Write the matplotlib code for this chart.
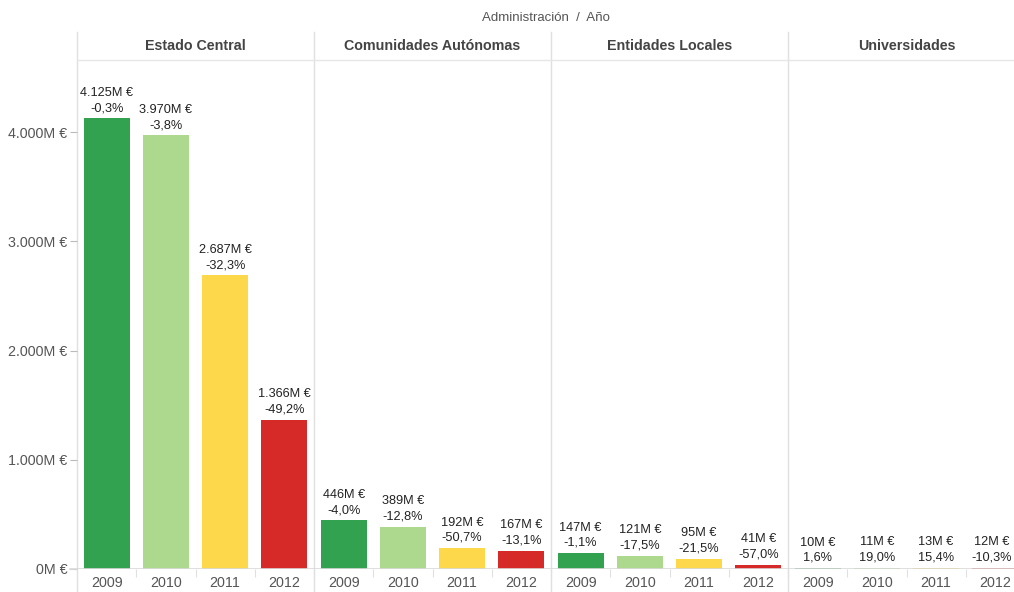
import matplotlib.pyplot as plt
from matplotlib.lines import Line2D
import matplotlib.transforms as mtransforms

plt.rcParams['font.family'] = ['Liberation Sans', 'DejaVu Sans']

# Data
groups = ['Estado Central', 'Comunidades Autónomas', 'Entidades Locales', 'Universidades']
years = ['2009', '2010', '2011', '2012']
values = [
    [4125, 3970, 2687, 1366],
    [446, 389, 192, 167],
    [147, 121, 95, 41],
    [10, 11, 13, 12],
]
changes = [
    ['-0,3%', '-3,8%', '-32,3%', '-49,2%'],
    ['-4,0%', '-12,8%', '-50,7%', '-13,1%'],
    ['-1,1%', '-17,5%', '-21,5%', '-57,0%'],
    ['1,6%', '19,0%', '15,4%', '-10,3%'],
]
year_colors = ['#32a251', '#acd98d', '#fdd84a', '#d62a28']
yticks = [0, 1000, 2000, 3000, 4000]

W, H = 1014, 592
fig = plt.figure(figsize=(W / 100, H / 100), dpi=100)
left, right, bottom, top = 77, 1014, 569, 60
ax = fig.add_axes([left / W, 1 - bottom / H, (right - left) / W, (bottom - top) / H])

n = len(years)
slot = 59.25
xmax = -0.5 + (right - left) / slot
ax.set_xlim(-0.5, xmax)
ax.set_ylim(0, (bottom - top) / 109.25 * 1000)

grid_c = '#e0e0e0'
xs, labels = [], []
last = len(groups) * n - 1
for g, (vals, pcts) in enumerate(zip(values, changes)):
    for i, (v, p) in enumerate(zip(vals, pcts)):
        x = g * n + i
        ax.bar(x, v, width=0.78, color=year_colors[i], zorder=2)
        txt = f"{v:,}".replace(',', '.') + 'M €\n' + p
        dx = -3 if x == last else 0  # keep the edge label inside the figure
        ax.annotate(txt, (x, v), xytext=(dx, 3), textcoords='offset points',
                    ha='center', va='bottom', fontsize=9.2, color='#222222',
                    linespacing=1.35)
        xs.append(x)
        labels.append(years[i])

for s in ax.spines.values():
    s.set_visible(False)

ax.set_xticks(xs)
ax.set_xticklabels(labels)
ax.set_xticks([k - 0.5 for k in range(1, len(xs))], minor=True)
ax.tick_params(axis='x', which='major', length=0, pad=5, labelsize=10.3, labelcolor='#555555')
ax.tick_params(axis='x', which='minor', length=6, color='#e0e0e0', width=0.8)

ax.set_yticks(yticks)
ax.set_yticklabels([f"{v:,}".replace(',', '.') + 'M €' for v in yticks])
ax.tick_params(axis='y', length=5, color='#bbbbbb', width=0.8, labelsize=10.3,
               labelcolor='#555555', pad=2)

trans = mtransforms.blended_transform_factory(ax.transData, ax.transAxes)
ybot = -(H - bottom) / (bottom - top)
ytop = (bottom - 32) / (bottom - top)
for g in range(len(groups) + 1):
    xb = g * n - 0.5
    if xb > xmax:
        continue
    ax.add_line(Line2D([xb, xb], [ybot, ytop], transform=trans, color=grid_c,
                       lw=1, clip_on=False, zorder=1))
    if g < len(groups):
        xc = g * n + (n - 1) / 2
        ax.text(xc, (bottom - 46) / (bottom - top), groups[g], transform=trans,
                ha='center', va='center', fontsize=10.3, fontweight='bold',
                color='#444444')

ax.axhline(0, color='#d9d9d9', lw=1.2, zorder=3)
ax.add_line(Line2D([-0.5, xmax], [1, 1], transform=trans, color='#e6e6e6',
                   lw=1, clip_on=False))
ax.add_line(Line2D([-0.5 - 7 / slot, -0.5], [0, 0], transform=trans, color='#d9d9d9',
                   lw=1.2, clip_on=False))

fig.text((left + right) / 2 / W, 1 - 18 / H, 'Administración  /  Año', ha='center',
         va='center', fontsize=9.5, color='#555555')

fig.savefig('out.png', dpi=100)
